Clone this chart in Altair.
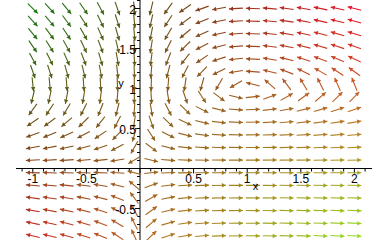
import math
import altair as alt
import pandas as pd

# ---------------- data ----------------
# Direction field (Maple DEplot style) of the system
#   dx/dt = x*(1 - y),  dy/dt = K_Y * y*(x - 1)
K_Y = 1.0 / 3.0
x_grid = [-1.0, -0.842, -0.684, -0.526, -0.368, -0.211, -0.053, 0.105, 0.263, 0.421,
          0.579, 0.737, 0.895, 1.053, 1.211, 1.368, 1.526, 1.684, 1.842, 2.0]
y_grid = [-1.0, -0.842, -0.684, -0.526, -0.368, -0.211, -0.053, 0.105, 0.263, 0.421,
          0.579, 0.737, 0.895, 1.053, 1.211, 1.368, 1.526, 1.684, 1.842, 2.0]

x_tick_values = [-1.0, -0.5, 0.5, 1.0, 1.5, 2.0]
x_tick_labels = ["-1", "-0.5", "0.5", "1", "1.5", "2"]
y_tick_values = [-0.5, 0.5, 1.0, 1.5, 2.0]
y_tick_labels = ["-0.5", "0.5", "1", "1.5", "2"]
x_minor = [round(-1.1 + 0.1 * k, 1) for k in range(33)]
y_minor = [round(-0.8 + 0.1 * k, 1) for k in range(30)]

# corner colours of the arrow colouring (top-left, top-right, bottom-left, bottom-right)
C_TL = (18, 122, 14)
C_TR = (232, 16, 40)
C_BL = (210, 36, 34)
C_BR = (140, 232, 28)

# ---------------- layout ----------------
W, H = 388, 240
X_DOMAIN = [-1.306, 2.3134]
Y_DOMAIN = [-0.89375, 2.10625]
SX = W / (X_DOMAIN[1] - X_DOMAIN[0])
SY = H / (Y_DOMAIN[1] - Y_DOMAIN[0])
ARROW_LEN = 14.0
FONT = "Liberation Sans"


def blend(s, t):
    top = [C_TL[k] * (1 - s) + C_TR[k] * s for k in range(3)]
    bot = [C_BL[k] * (1 - s) + C_BR[k] * s for k in range(3)]
    c = [top[k] * (1 - t) + bot[k] * t for k in range(3)]
    return "#%02x%02x%02x" % tuple(int(round(v)) for v in c)


rows = []
for yv in y_grid:
    for xv in x_grid:
        f = xv * (1 - yv)
        g = K_Y * yv * (xv - 1)
        px, py = f * SX, g * SY
        n = math.hypot(px, py)
        ux, uy = px / n, py / n
        h = ARROW_LEN / 2
        x0, y0 = xv - h * ux / SX, yv - h * uy / SY
        x1, y1 = xv + h * ux / SX, yv + h * uy / SY
        hx, hy = x1 - 2.2 * ux / SX, y1 - 2.2 * uy / SY
        ang = math.degrees(math.atan2(-uy, ux)) % 360
        s = (xv - x_grid[0]) / (x_grid[-1] - x_grid[0])
        t = (y_grid[-1] - yv) / (y_grid[-1] - y_grid[0])
        rows.append(dict(x0=x0, y0=y0, x1=x1, y1=y1, hx=hx, hy=hy, ang=ang, c=blend(s, t)))
arrows = pd.DataFrame(rows)

xs = alt.Scale(domain=X_DOMAIN, nice=False, zero=False)
ys = alt.Scale(domain=Y_DOMAIN, nice=False, zero=False)

shafts = alt.Chart(arrows).mark_rule(strokeWidth=1.1, clip=True).encode(
    x=alt.X("x0:Q", scale=xs, axis=None),
    y=alt.Y("y0:Q", scale=ys, axis=None),
    x2="x1:Q", y2="y1:Q",
    color=alt.Color("c:N", scale=None),
)
heads = alt.Chart(arrows).mark_point(shape="triangle-right", filled=True, size=20,
                                      opacity=1, clip=True).encode(
    x=alt.X("hx:Q", scale=xs, axis=None),
    y=alt.Y("hy:Q", scale=ys, axis=None),
    angle=alt.Angle("ang:Q", scale=None),
    color=alt.Color("c:N", scale=None),
)

# axes through the origin
axes_df = pd.DataFrame([
    dict(xa=-1.157, xb=2.164, ya=0.0, yb=0.0),
    dict(xa=0.0, xb=0.0, ya=Y_DOMAIN[0], yb=Y_DOMAIN[1]),
])
axes = alt.Chart(axes_df).mark_rule(color="black", strokeWidth=1).encode(
    x=alt.X("xa:Q", scale=xs, axis=None), x2="xb:Q",
    y=alt.Y("ya:Q", scale=ys, axis=None), y2="yb:Q",
)

xt = pd.DataFrame(dict(v=x_minor))
xt["major"] = [abs(v * 2 - round(v * 2)) < 1e-9 for v in x_minor]
xt["len"] = [5.0 if m else 3.0 for m in xt["major"]]
xt["y0"] = 0.0
xt["y1"] = -xt["len"] / SY
xticks = alt.Chart(xt).mark_rule(color="black", strokeWidth=1).encode(
    x=alt.X("v:Q", scale=xs, axis=None),
    y=alt.Y("y0:Q", scale=ys, axis=None), y2="y1:Q",
)

yt = pd.DataFrame(dict(v=y_minor))
yt["major"] = [abs(v * 2 - round(v * 2)) < 1e-9 for v in y_minor]
yt["len"] = [5.0 if m else 3.0 for m in yt["major"]]
yt["x0"] = 0.0
yt["x1"] = -yt["len"] / SX
yticks = alt.Chart(yt).mark_rule(color="black", strokeWidth=1).encode(
    y=alt.Y("v:Q", scale=ys, axis=None),
    x=alt.X("x0:Q", scale=xs, axis=None), x2="x1:Q",
)

xl = pd.DataFrame(dict(v=x_tick_values, t=x_tick_labels, z=0.0))
xlabels = alt.Chart(xl).mark_text(font=FONT, fontSize=12, color="black", align="center",
                                  baseline="alphabetic", dy=14.5).encode(
    x=alt.X("v:Q", scale=xs, axis=None), y=alt.Y("z:Q", scale=ys, axis=None), text="t:N")

yl = pd.DataFrame(dict(v=y_tick_values, t=y_tick_labels, z=0.0))
ylabels = alt.Chart(yl).mark_text(font=FONT, fontSize=12, color="black", align="right",
                                  baseline="middle", dx=-4, dy=1).encode(
    y=alt.Y("v:Q", scale=ys, axis=None), x=alt.X("z:Q", scale=xs, axis=None), text="t:N")

names = pd.DataFrame(dict(xn=[1.077, -0.177], yn=[0.0, 1.019], t=["x", "y"]))
xname = alt.Chart(names.iloc[[0]]).mark_text(font=FONT, fontSize=11, color="black",
                                             align="center", baseline="alphabetic", dy=21.5).encode(
    x=alt.X("xn:Q", scale=xs, axis=None), y=alt.Y("yn:Q", scale=ys, axis=None), text="t:N")
yname = alt.Chart(names.iloc[[1]]).mark_text(font=FONT, fontSize=11, color="black",
                                             align="center", baseline="alphabetic").encode(
    x=alt.X("xn:Q", scale=xs, axis=None), y=alt.Y("yn:Q", scale=ys, axis=None), text="t:N")

chart = alt.layer(axes, xticks, yticks, shafts, heads, xlabels, ylabels, xname, yname).properties(
    width=W, height=H, padding=0, autosize=alt.AutoSizeParams(type="none"), background="white"
).configure_view(strokeWidth=0)

chart.save("out.html", embed_options={"renderer": "svg", "actions": False})
